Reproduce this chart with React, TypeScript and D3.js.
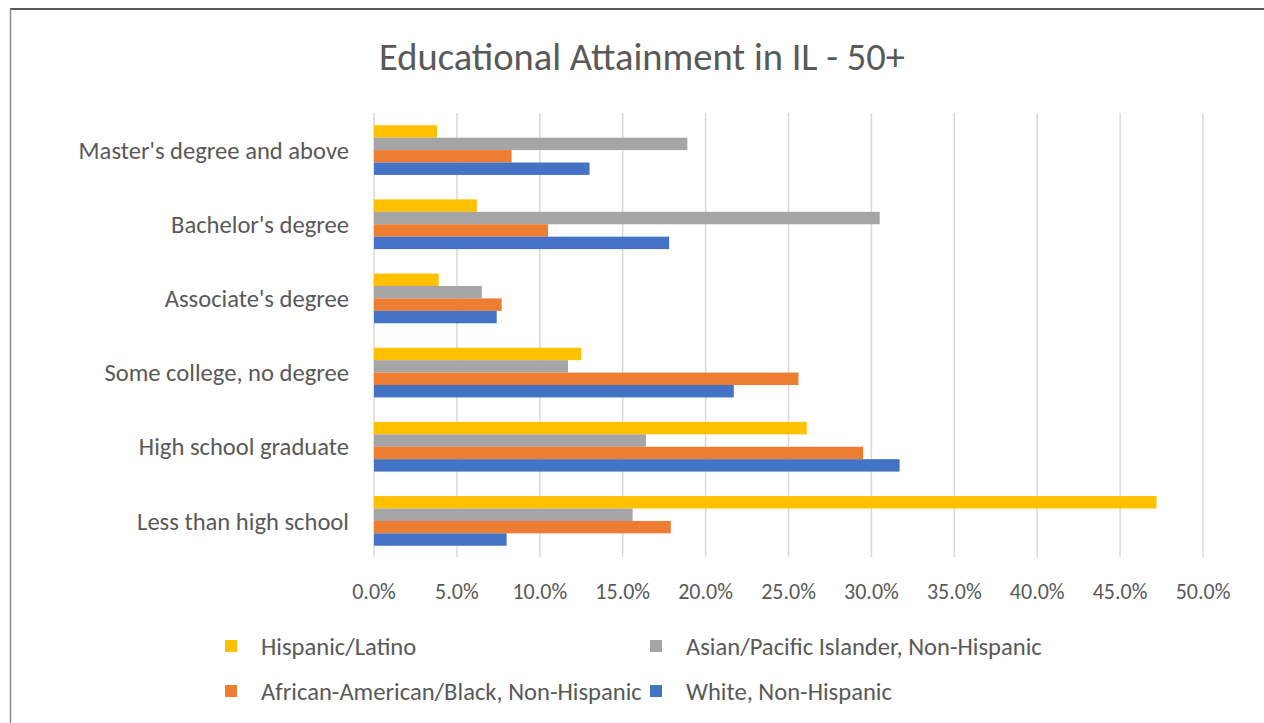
import React from "react";
import * as d3 from "d3";

const categories = [
  "Master's degree and above",
  "Bachelor's degree",
  "Associate's degree",
  "Some college, no degree",
  "High school graduate",
  "Less than high school",
];
const seriesNames = [
  "Hispanic/Latino",
  "Asian/Pacific Islander, Non-Hispanic",
  "African-American/Black, Non-Hispanic",
  "White, Non-Hispanic",
];
const hispanic = [3.8, 6.2, 3.9, 12.5, 26.1, 47.2];
const asian = [18.9, 30.5, 6.5, 11.7, 16.4, 15.6];
const black = [8.3, 10.5, 7.7, 25.6, 29.5, 17.9];
const white = [13.0, 17.8, 7.4, 21.7, 31.7, 8.0];
const seriesValues = [hispanic, asian, black, white];
const colors = ["#FFC000", "#A5A5A5", "#ED7D31", "#4472C4"];
const ticks = [0, 5, 10, 15, 20, 25, 30, 35, 40, 45, 50];
const title = "Educational Attainment in IL - 50+";

const W = 1264;
const H = 723;
const FONT = "Calibri, Carlito, 'Liberation Sans', Arial, sans-serif";
const TXT = "#595959";

export default function App() {
  const x = d3.scaleLinear().domain([0, 50]).range([374, 1203]);
  const y = d3.scaleBand<string>().domain(categories).range([113, 558]).paddingInner(0.33).paddingOuter(0.165);
  const sub = d3.scaleBand<number>().domain(d3.range(seriesNames.length)).range([0, y.bandwidth()]);

  const legendPos = [
    { lx: 225, ly: 646 },
    { lx: 650, ly: 646 },
    { lx: 225, ly: 691 },
    { lx: 650, ly: 691 },
  ];

  return (
    <svg width={W} height={H} style={{ position: "absolute", left: 0, top: 0, display: "block", background: "#fff" }} fontFamily={FONT}>
      <rect x={0} y={0} width={W} height={H} fill="#fff" />
      <line x1={10} y1={9} x2={W} y2={9} stroke="#222" strokeWidth={1.5} />
      <line x1={10.5} y1={9} x2={10.5} y2={H} stroke="#888" strokeWidth={1.5} />
      <text x={642} y={70} textAnchor="middle" fontSize={38.5} fill={TXT}>{title}</text>
      {ticks.map((t) => (
        <line key={"g" + t} x1={x(t)} x2={x(t)} y1={113} y2={557} stroke="#D9D9D9" strokeWidth={1.5} />
      ))}
      {categories.map((c, ci) => (
        <g key={c}>
          {seriesValues.map((vals, si) => (
            <rect
              key={si}
              x={x(0)}
              y={(y(c) as number) + (sub(si) as number)}
              width={x(vals[ci]) - x(0)}
              height={sub.bandwidth()}
              fill={colors[si]}
            />
          ))}
          <text x={349} y={(y(c) as number) + y.bandwidth() / 2} dy="0.35em" textAnchor="end" fontSize={24.6} fill={TXT}>
            {c}
          </text>
        </g>
      ))}
      {ticks.map((t) => (
        <text key={"t" + t} x={x(t)} y={599} textAnchor="middle" fontSize={22} fill={TXT}>
          {t.toFixed(1) + "%"}
        </text>
      ))}
      {seriesNames.map((s, i) => (
        <g key={s}>
          <rect x={legendPos[i].lx} y={legendPos[i].ly - 6} width={12} height={12} fill={colors[i]} />
          <text x={legendPos[i].lx + 36} y={legendPos[i].ly} dy="0.35em" fontSize={24.6} fill={TXT}>
            {s}
          </text>
        </g>
      ))}
    </svg>
  );
}
